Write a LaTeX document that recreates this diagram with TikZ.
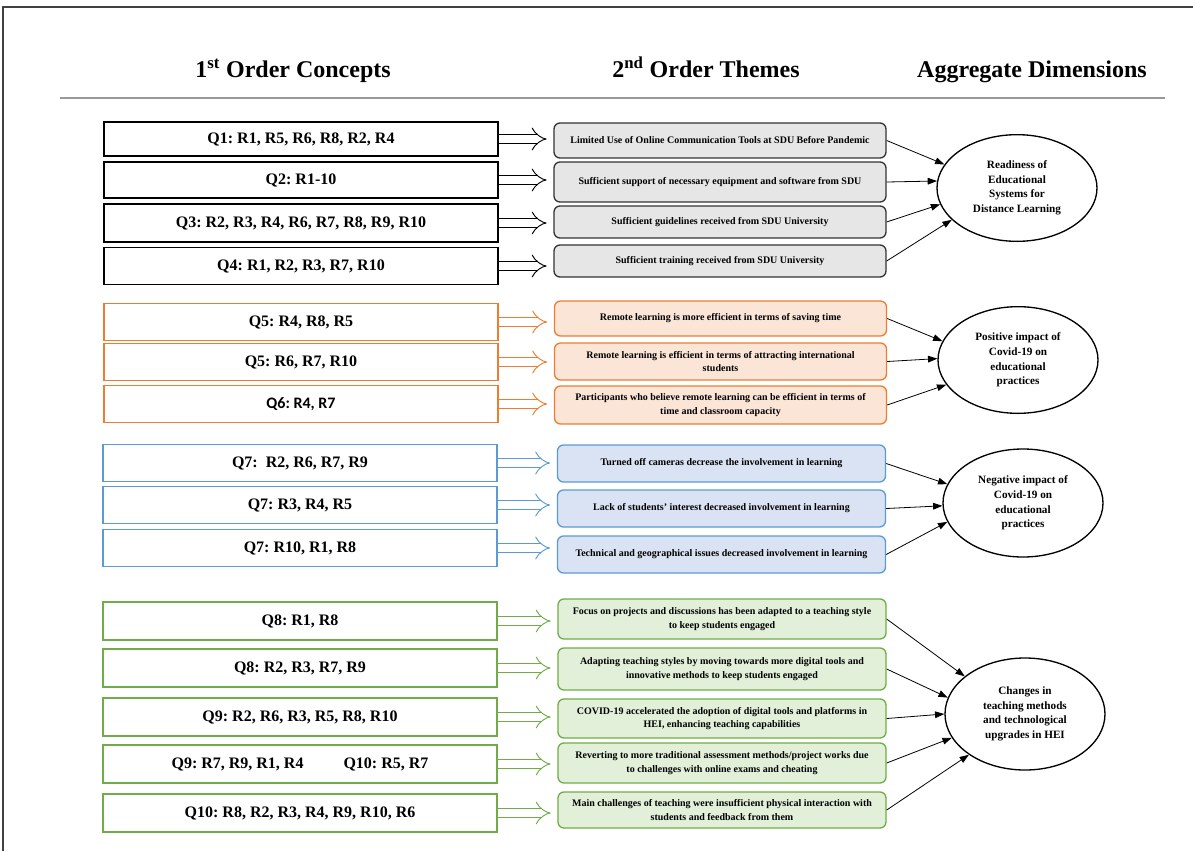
\documentclass[tikz,border=0pt]{standalone}
\usepackage{fontspec}
\setmainfont{Liberation Serif}
\newfontfamily\calibri{Carlito}
\usetikzlibrary{arrows.meta,shapes.geometric,positioning}
\frenchspacing

\definecolor{orangeline}{HTML}{ED7D31}
\definecolor{orangefill}{HTML}{FBE5D6}
\definecolor{blueline}{HTML}{5B9BD5}
\definecolor{bluefill}{HTML}{DAE3F3}
\definecolor{greenline}{HTML}{70AD47}
\definecolor{greenfill}{HTML}{E2F0D9}
\definecolor{grayfill}{HTML}{E7E6E6}

\begin{document}
\begin{tikzpicture}[x=0.75pt,y=-0.75pt,
  concept/.style={draw,line width=0.8pt,minimum width=295.5pt,font=\fontsize{12}{14}\selectfont\bfseries},
  theme/.style={draw,rounded corners=4.5pt,line width=1pt,align=center,font=\fontsize{7.5}{10}\selectfont\bfseries},
  dimension/.style={ellipse,draw,line width=1pt,minimum width=120pt,inner sep=0pt,align=center,font=\fontsize{8.4}{10.9}\selectfont\bfseries},
  heading/.style={anchor=base,font=\fontsize{18}{20}\selectfont\bfseries},
  feed/.style={double,double distance=5.5pt,line width=0.7pt,-{Implies[scale=1.7]},shorten >=5pt},
  link/.style={-{Triangle[length=7pt,width=5pt]},line width=0.6pt}]
\useasboundingbox (0,0) rectangle (1193,851);

% frame and heading
\draw[line width=1.2pt,black!75] (3,851) -- (3,7) -- (1193,7);
\node[heading] (head1) at (293,77) {1\textsuperscript{st} Order Concepts};
\node[heading] (head2) at (706,77) {2\textsuperscript{nd} Order Themes};
\node[heading] (head3) at (1032,77) {Aggregate Dimensions};
\draw[line width=1.5pt,black!40] (60,98) -- (1165,98);

% first order concepts
\foreach \y/\h/\txt [count=\n] in {139/34/{Q1: R1, R5, R6, R8, R2, R4},180/36/{Q2: R1-10},223/38/{Q3: R2, R3, R4, R6, R7, R8, R9, R10},266/37/{Q4: R1, R2, R3, R7, R10}}
  \node[concept,minimum height=\h*0.75pt] (Q\n) at (301,\y) {\txt};
\foreach \y/\txt [count=\n from 5] in {322/{Q5: R4, R8, R5},362/{Q5: R6, R7, R10},404/{\calibri Q6: R4, R7}}
  \node[concept,draw=orangeline,line width=1.1pt,minimum height=28pt] (Q\n) at (301,\y) {\txt};
\foreach \y/\txt [count=\n from 8] in {463/{Q7: \ R2, R6, R7, R9},505/{Q7: R3, R4, R5},548/{Q7: R10, R1, R8}}
  \node[concept,draw=blueline,line width=1.1pt,minimum height=28pt] (Q\n) at (300,\y) {\txt};
\foreach \y/\txt [count=\n from 11] in {621/{Q8: R1, R8},668/{Q8: R2, R3, R7, R9},717/{Q9: R2, R6, R3, R5, R8, R10},764/{Q9: R7, R9, R1, R4\hspace{30pt}Q10: R5, R7},813/{Q10: R8, R2, R3, R4, R9, R10, R6}}
  \node[concept,draw=greenline,line width=1.1pt,minimum height=28.5pt] (Q\n) at (300,\y) {\txt};

% second order themes
\foreach \y/\h/\txt [count=\n] in {140.5/35/{Limited Use of Online Communication Tools at SDU Before Pandemic},182/40/{Sufficient support of necessary equipment and software from SDU},222/32/{Sufficient guidelines received from SDU University},261/32/{Sufficient training received from SDU University}}
  \node[theme,fill=grayfill,draw=black!80,minimum width=249pt,minimum height=\h*0.75pt] (T\n) at (720,\y) {\txt};
\foreach \y/\h/\txt [count=\n from 5] in {318.5/35/{Remote learning is more efficient in terms of saving time},361.5/37/{Remote learning is efficient in terms of attracting international\\students},405/38/{Participants who believe remote learning can be efficient in terms of\\time and classroom capacity}}
  \node[theme,fill=orangefill,draw=orangeline,minimum width=249pt,minimum height=\h*0.75pt] (T\n) at (720.5,\y) {\txt};
\foreach \y/\txt [count=\n from 8] in {463.5/{Turned off cameras decrease the involvement in learning},508.5/{Lack of students' interest decreased involvement in learning},554.5/{Technical and geographical issues decreased involvement in learning}}
  \node[theme,fill=bluefill,draw=blueline,minimum width=246pt,minimum height=27.75pt] (T\n) at (721.5,\y) {\txt};
\foreach \y/\h/\txt [count=\n from 11] in {619/40/{Focus on projects and discussions has been adapted to a teaching style\\to keep students engaged},669/42/{Adapting teaching styles by moving towards more digital tools and\\innovative methods to keep students engaged},718.5/39/{COVID-19 accelerated the adoption of digital tools and platforms in\\HEI, enhancing teaching capabilities},763/40/{Reverting to more traditional assessment methods/project works due\\to challenges with online exams and cheating},810/36/{Main challenges of teaching were insufficient physical interaction with\\students and feedback from them}}
  \node[theme,fill=greenfill,draw=greenline,minimum width=246pt,minimum height=\h*0.75pt] (T\n) at (722,\y) {\txt};

% aggregate dimensions
\node[dimension,minimum height=80pt] (E1) at (1017,188) {Readiness of\\Educational\\Systems for\\Distance Learning};
\node[dimension,minimum height=80pt] (E2) at (1018,360) {Positive impact of\\Covid-19 on\\educational\\practices};
\node[dimension,minimum height=81pt] (E3) at (1023,503) {Negative impact of\\Covid-19 on\\educational\\practices};
\node[dimension,minimum height=84pt] (E4) at (1025,714) {Changes in\\teaching methods\\and technological\\upgrades in HEI};

% concepts to themes
\foreach \n in {1,...,4} \draw[feed] (Q\n.east) -- (Q\n.east -| T\n.west);
\foreach \n in {5,6,7} \draw[feed,orangeline] (Q\n.east) -- (Q\n.east -| T\n.west);
\foreach \n in {8,9,10} \draw[feed,blueline] (Q\n.east) -- (Q\n.east -| T\n.west);
\foreach \n in {11,...,15} \draw[feed,greenline] (Q\n.east) -- (Q\n.east -| T\n.west);

% themes to dimensions
\foreach \n/\a in {1/162,2/175,3/192,4/206} \draw[link] (T\n.east) -- (E1.\a);
\foreach \n/\a in {5/166,6/179,7/199} \draw[link] (T\n.east) -- (E2.\a);
\foreach \n/\a in {8/166,9/182,10/194} \draw[link] (T\n.east) -- (E3.\a);
\foreach \n/\a in {11/148,12/168,13/180,14/198,15/216} \draw[link] (T\n.east) -- (E4.\a);
\end{tikzpicture}
\end{document}
